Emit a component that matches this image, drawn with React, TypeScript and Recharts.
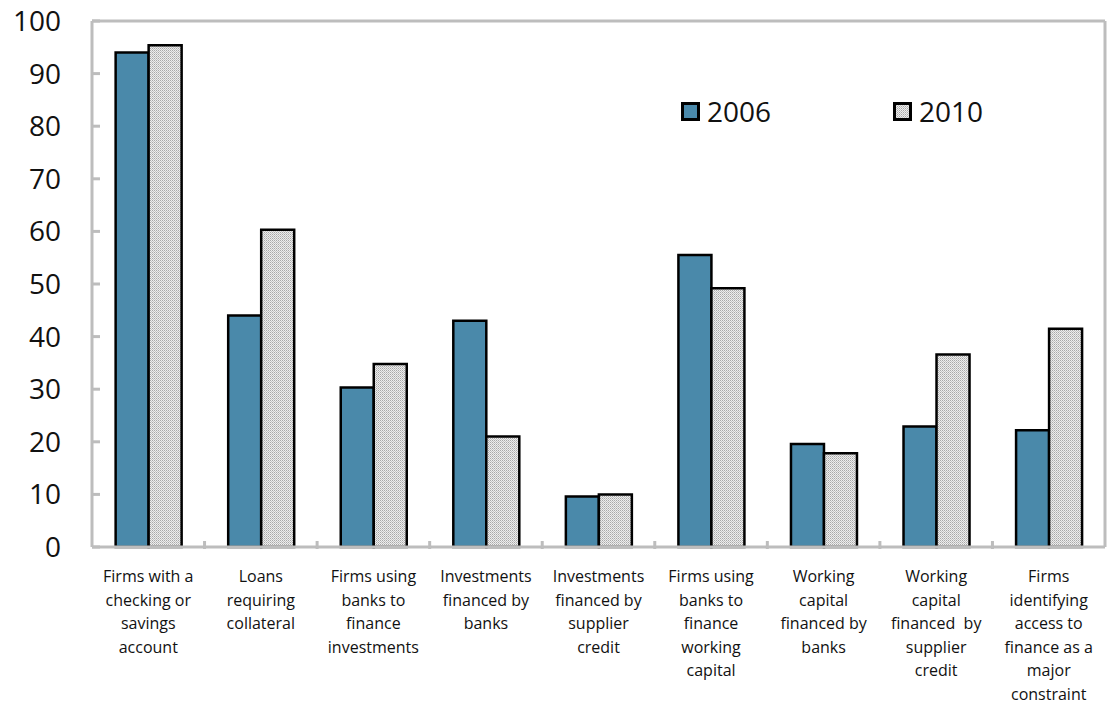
import React from 'react';
import { BarChart, Bar, XAxis, YAxis, ReferenceLine, Legend } from 'recharts';

const categories = [
  'Firms with a|checking or|savings|account',
  'Loans|requiring|collateral',
  'Firms using|banks to|finance|investments',
  'Investments|financed by|banks',
  'Investments|financed by|supplier|credit',
  'Firms using|banks to|finance|working|capital',
  'Working|capital|financed by|banks',
  'Working|capital|financed  by|supplier|credit',
  'Firms|identifying|access to|finance as a|major|constraint',
];
const values2006 = [94, 44, 30.3, 43, 9.6, 55.5, 19.6, 22.9, 22.2];
const values2010 = [95.4, 60.3, 34.8, 21, 10, 49.2, 17.8, 36.6, 41.5];
const yTicks = [0, 10, 20, 30, 40, 50, 60, 70, 80, 90, 100];

const data = categories.map((name, i) => ({
  name,
  y2006: values2006[i],
  y2010: values2010[i],
}));

const FONT = '"Open Sans", "Segoe UI", sans-serif';
const BLUE = '#4A89AA';
const FRAME = '#BDBDBD';

const Dots = ({ id }: { id: string }) => (
  <pattern id={id} width="2" height="2" patternUnits="userSpaceOnUse">
    <rect width="2" height="2" fill="#EDEDED" />
    <rect width="1" height="1" fill="#A8A8A8" />
    <rect x="1" y="1" width="1" height="1" fill="#C4C4C4" />
  </pattern>
);

const YTick = (props: any) => {
  const { y, payload } = props;
  return (
    <g>
      <line x1={92} x2={100} y1={y} y2={y} stroke={FRAME} strokeWidth={3} />
      <text x={61} y={y} dy={10} textAnchor="end" fontSize={28} fill="#111" fontFamily={FONT}>
        {payload.value}
      </text>
    </g>
  );
};

const XTick = (props: any) => {
  const { x, y, payload, index } = props;
  const lines = String(payload.value).split('|');
  const half = payload.offset ?? 56.4;
  return (
    <g>
      {index > 0 && (
        <line x1={x - half} x2={x - half} y1={y} y2={y - 8} stroke={FRAME} strokeWidth={3} />
      )}
      <text x={x} y={y} textAnchor="middle" fontSize={16} fill="#111" fontFamily={FONT}>
        {lines.map((l, i) => (
          <tspan key={i} x={x} dy={i === 0 ? 33 : 23.5} style={{ whiteSpace: 'pre' }}>
            {l}
          </tspan>
        ))}
      </text>
    </g>
  );
};

const Swatch = ({ fill, pid }: { fill: string; pid?: string }) => (
  <svg width={19} height={19} style={{ display: 'block' }}>
    {pid && <defs><Dots id={pid} /></defs>}
    <rect x={1.5} y={1.5} width={16} height={16} fill={fill} stroke="#000" strokeWidth={3} />
  </svg>
);

const LegendContent = () => (
  <div style={{ display: 'flex', alignItems: 'center', fontFamily: FONT, fontSize: 28, color: '#111' }}>
    <Swatch fill={BLUE} />
    <span style={{ marginLeft: 7, width: 186 }}>2006</span>
    <Swatch fill="url(#dotsLegend)" pid="dotsLegend" />
    <span style={{ marginLeft: 7 }}>2010</span>
  </div>
);

export default function App() {
  return (
    <div style={{ position: 'absolute', left: 0, top: 0, background: '#fff' }}>
      <BarChart
        width={1111}
        height={706}
        data={data}
        margin={{ top: 21, right: 3, left: 0, bottom: 0 }}
        barCategoryGap="21%"
        barGap={0}
      >
        <defs>
          <Dots id="dots2010" />
        </defs>
        <XAxis
          dataKey="name"
          height={159}
          interval={0}
          tickSize={0}
          axisLine={{ stroke: FRAME, strokeWidth: 3 }}
          tickLine={false}
          tick={<XTick />}
        />
        <YAxis
          width={92}
          domain={[0, 100]}
          ticks={yTicks}
          interval={0}
          axisLine={{ stroke: FRAME, strokeWidth: 3 }}
          tickLine={false}
          tick={<YTick />}
        />
        <YAxis
          yAxisId="right"
          orientation="right"
          width={3}
          domain={[0, 100]}
          tick={false}
          tickLine={false}
          axisLine={{ stroke: FRAME, strokeWidth: 3 }}
        />
        <ReferenceLine y={100} stroke={FRAME} strokeWidth={3} />
        <Legend
          layout="horizontal"
          verticalAlign="middle"
          align="center"
          content={<LegendContent />}
          wrapperStyle={{ top: 92, left: 681, width: 340 }}
        />
        <Bar dataKey="y2006" name="2006" fill={BLUE} stroke="#000" strokeWidth={2.5} isAnimationActive={false} />
        <Bar dataKey="y2010" name="2010" fill="url(#dots2010)" stroke="#000" strokeWidth={2.5} isAnimationActive={false} />
      </BarChart>
    </div>
  );
}
